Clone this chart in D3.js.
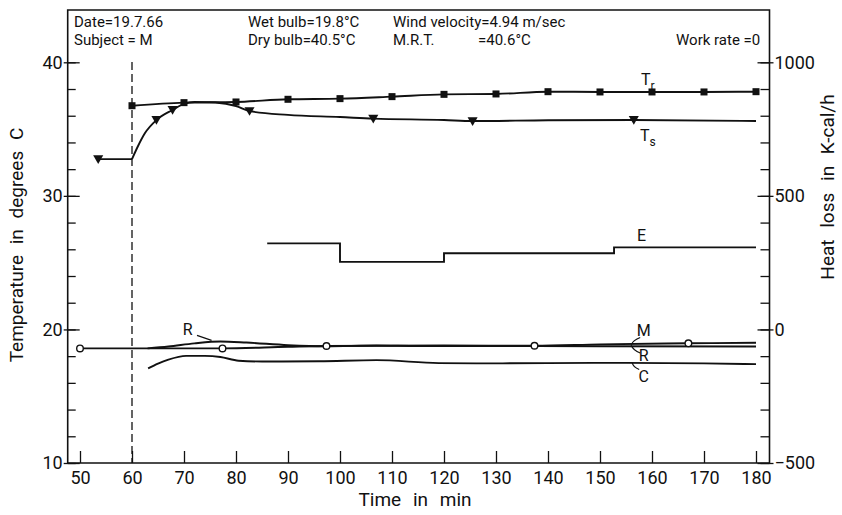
<!DOCTYPE html>
<html><head><meta charset="utf-8">
<script src="https://cdn.jsdelivr.net/npm/d3@7"></script>
<style>
body{margin:0;background:#fff;}
svg text{font-family:Roboto,"DejaVu Sans",sans-serif;fill:#111;}
</style></head><body>
<svg id="c" width="842" height="515"></svg>
<script>
// ---------- data ----------
const timeTicks = [50,60,70,80,90,100,110,120,130,140,150,160,170,180];
const tempTicks = [10,20,30,40];
const heatTicks = [-500,0,500,1000];
const headerRow1 = ["Date=19.7.66","Wet bulb=19.8°C","Wind velocity=4.94 m/sec"];
const headerRow2 = ["Subject = M","Dry bulb=40.5°C","M.R.T.","=40.6°C","Work rate =0"];

// rectal temperature Tr (deg C)
const trTime = [60,70,80,90,100,110,120,130,140,150,160,170,180];
const trTemp = [36.75,36.98,37.03,37.23,37.28,37.43,37.6,37.63,37.8,37.78,37.78,37.78,37.8];
// mean skin temperature Ts (deg C)
const tsPreTime = [53.5,60];
const tsPreTemp = [32.75,32.75];
const tsTime = [60,61,62.5,64.7,67.8,70,72,76,80,82.6,90,100,106.4,120,125.5,140,156.5,180];
const tsTemp = [32.75,33.6,34.7,35.68,36.43,36.88,37.03,36.99,36.73,36.35,36.06,35.9,35.78,35.68,35.6,35.66,35.68,35.6];
const tsMarkTime = [53.5,64.7,67.8,82.6,106.4,125.5,156.5];
const tsMarkTemp = [32.75,35.68,36.43,36.35,35.78,35.6,35.68];
// evaporative heat loss E (kcal/h)
const eTime = [86,100,120,152.7,180];
const eHeat = [322,253,285,307,307];
// metabolic M (kcal/h)
const mTime = [50,60,77.4,90,97.4,120,137.4,150,167,180];
const mHeat = [-71,-71,-71,-65,-62,-60,-61,-56,-52,-50];
const mMarkTime = [50,77.4,97.4,137.4,167];
const mMarkHeat = [-71,-71,-62,-61,-52];
// radiation R (kcal/h)
const rTime = [63,67,72,77,82,90,97.4,107,115,130,150,180];
const rHeat = [-71,-64,-52,-45,-49,-59,-63,-60,-62,-62,-63,-64];
// convection C (kcal/h)
const cTime = [63.1,65,67,70.4,74,77,80.5,85,96,107,119,130,150,170,180];
const cHeat = [-146,-128,-113,-99,-99,-103,-117,-120,-119,-115,-126,-127,-125,-127,-130];

// ---------- layout ----------
const L = 67.7, R = 769.5, T = 10, B = 463;
const svg = d3.select("#c");
const x = d3.scaleLinear().domain([50,180]).range([80,756]);
const yT = d3.scaleLinear().domain([10,40]).range([B,62.3]);
const yH = d3.scaleLinear().domain([-500,1000]).range([B,62.3]);
const ink = "#111";

// frame
svg.append("path").attr("d",`M${L},${B}V${T}H${R}V${B}Z`)
  .attr("fill","none").attr("stroke",ink).attr("stroke-width",1.6);

// left axis: minor ticks every 2 deg, major every 10
const gl = svg.append("g").attr("transform",`translate(${L},0)`);
gl.call(d3.axisLeft(yT).tickValues(d3.range(10,41,2)).tickSize(-8).tickFormat(""));
gl.select(".domain").remove();
const glm = svg.append("g").attr("transform",`translate(${L},0)`);
glm.call(d3.axisLeft(yT).tickValues(tempTicks).tickSizeInner(-12).tickSizeOuter(0).tickPadding(5).tickFormat(d3.format("d")));
glm.select(".domain").remove();
glm.selectAll(".tick line").attr("x1",-4);
glm.selectAll("text").attr("font-size",18).attr("fill",ink).attr("font-family",null);

// right axis: minor ticks every 100, major every 500
const gr = svg.append("g").attr("transform",`translate(${R},0)`);
gr.call(d3.axisRight(yH).tickValues(d3.range(-500,1001,100)).tickSize(-9).tickFormat(""));
gr.select(".domain").remove();
const grm = svg.append("g").attr("transform",`translate(${R},0)`);
grm.call(d3.axisRight(yH).tickValues(heatTicks).tickSizeInner(-12).tickSizeOuter(0).tickPadding(5).tickFormat(d3.format("d")));
grm.select(".domain").remove();
grm.selectAll(".tick line").attr("x1",4);
grm.selectAll("text").attr("font-size",18).attr("fill",ink).attr("font-family",null);

// bottom axis
const gb = svg.append("g").attr("transform",`translate(0,${B})`);
gb.call(d3.axisBottom(x).tickValues(timeTicks).tickSizeInner(-12).tickSizeOuter(0).tickPadding(8).tickFormat(d3.format("d")));
gb.select(".domain").remove();
gb.selectAll("text").attr("font-size",18).attr("fill",ink).attr("font-family",null);
svg.selectAll(".tick line").attr("stroke",ink).attr("stroke-width",1.3);

// axis titles
svg.append("text").attr("transform",`translate(23,245) rotate(-90)`).attr("text-anchor","middle")
  .attr("font-size",19).attr("word-spacing",6).text("Temperature in degrees C");
svg.append("text").attr("transform",`translate(834,187) rotate(-90)`).attr("text-anchor","middle")
  .attr("font-size",19).attr("word-spacing",7).text("Heat loss in K-cal/h");
svg.append("text").attr("x",415).attr("y",506).attr("text-anchor","middle")
  .attr("font-size",19).attr("word-spacing",7).text("Time in min");

// header
const hx1 = [74,248,393];
const hx2 = [74,248,393,478,676];
headerRow1.forEach((s,i)=>{ svg.append("text").attr("x",hx1[i]).attr("y",27).attr("font-size",15).text(s); });
headerRow2.forEach((s,i)=>{ svg.append("text").attr("x",hx2[i]).attr("y",45).attr("font-size",15).text(s); });

// dashed exposure line at t=60
svg.append("line").attr("x1",x(60)).attr("x2",x(60)).attr("y1",62).attr("y2",B)
  .attr("stroke",ink).attr("stroke-width",1.3).attr("stroke-dasharray","8,4");

// lines
function drawLine(ts, vs, ys, curve){
  const ln = d3.line().x((d,i)=>x(ts[i])).y((d,i)=>ys(vs[i])).curve(curve);
  svg.append("path").attr("d",ln(ts)).attr("fill","none").attr("stroke",ink).attr("stroke-width",1.9);
}
drawLine(trTime,trTemp,yT,d3.curveMonotoneX);
drawLine(tsPreTime,tsPreTemp,yT,d3.curveLinear);
drawLine(tsTime,tsTemp,yT,d3.curveMonotoneX);
drawLine(eTime,eHeat,yH,d3.curveStepAfter);
drawLine(mTime,mHeat,yH,d3.curveMonotoneX);
drawLine(rTime,rHeat,yH,d3.curveMonotoneX);
drawLine(cTime,cHeat,yH,d3.curveMonotoneX);

// markers
svg.append("g").selectAll("rect").data(trTime).join("rect")
  .attr("x",(d)=>x(d)-3.5).attr("y",(d,i)=>yT(trTemp[i])-3.5).attr("width",7).attr("height",7).attr("fill",ink);
const tri = d3.symbol().type(d3.symbolTriangle).size(44);
svg.append("g").selectAll("path").data(tsMarkTime).join("path")
  .attr("d",tri).attr("transform",(d,i)=>`translate(${x(d)},${yT(tsMarkTemp[i])-1}) rotate(180)`).attr("fill",ink);
svg.append("g").selectAll("circle").data(mMarkTime).join("circle")
  .attr("cx",(d)=>x(d)).attr("cy",(d,i)=>yH(mMarkHeat[i])).attr("r",3.3)
  .attr("fill","#fff").attr("stroke",ink).attr("stroke-width",1.4);

// labels
function lab(t, yv, ys, dy, main, sub){
  const tx = svg.append("text").attr("x",x(t)).attr("y",ys(yv)+dy).attr("font-size",16).attr("text-anchor","middle");
  tx.append("tspan").text(main);
  if(sub) tx.append("tspan").attr("font-size",12).attr("dy",5).text(sub);
}
lab(159.2, 37.8, yT, -7, "T", "r");
lab(159.2, 35.6, yT, 20, "T", "s");
lab(158, 307, yH, -6, "E");
lab(158.4, -25, yH, 0, "M");
lab(158.4, -120, yH, 0, "R");
lab(158.4, -198, yH, 0, "C");
lab(70.7, -21, yH, 0, "R");

// leaders
const lx = x(156);
const leaders = [
  `M${lx},${yH(-57)} Q${lx+2},${yH(-40)} ${lx+9},${yH(-30)}`,
  `M${lx},${yH(-59)} Q${lx+2},${yH(-78)} ${lx+9},${yH(-88)}`,
  `M${lx+1},${yH(-125)} Q${lx+2},${yH(-140)} ${lx+8},${yH(-150)}`,
  `M${x(72.5)},${yH(-22)} L${x(75.3)},${yH(-41)}`
];
leaders.forEach(d=>svg.append("path").attr("d",d).attr("fill","none").attr("stroke",ink).attr("stroke-width",1.2));
</script>
</body></html>
